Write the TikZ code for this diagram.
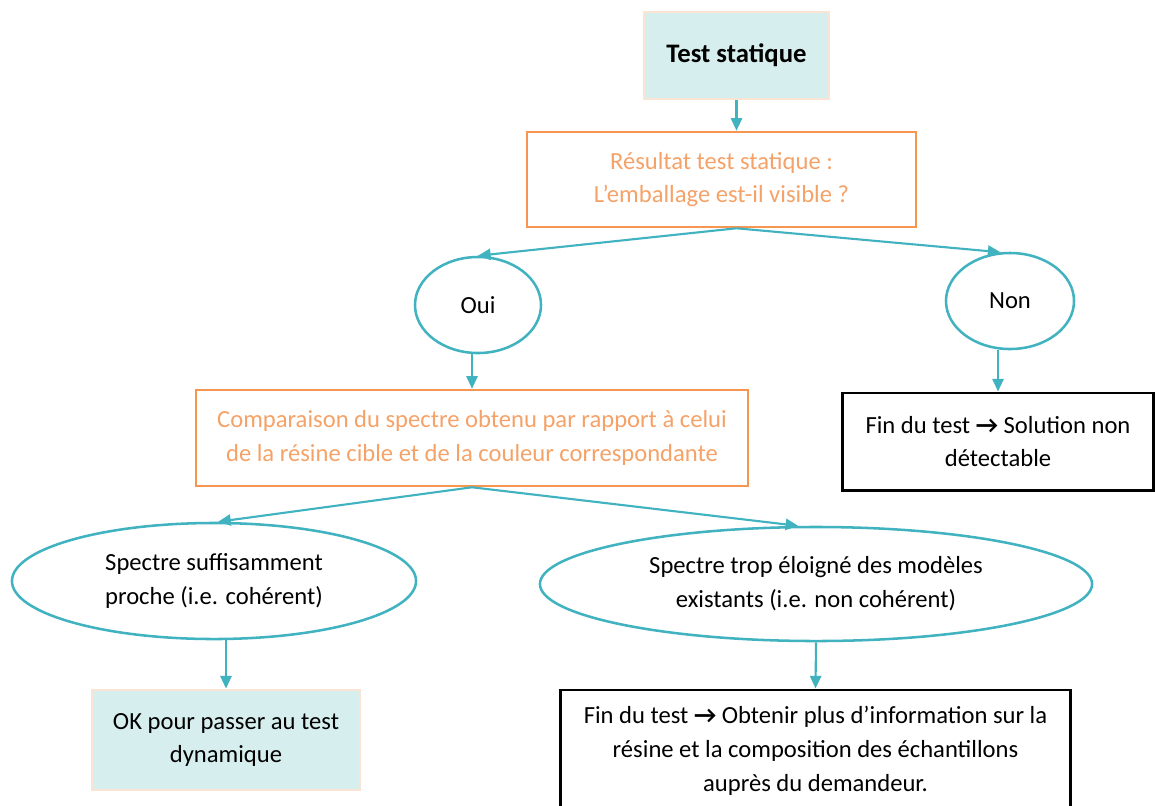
\documentclass[tikz,border=0pt]{standalone}
\usepackage{fontspec}
\setmainfont{Carlito}
\usetikzlibrary{shapes}
\usetikzlibrary{arrows.meta}

\definecolor{teal}{RGB}{64,178,192}
\definecolor{orangeline}{RGB}{246,150,80}
\definecolor{orangetext}{RGB}{245,162,104}
\definecolor{paleblue}{RGB}{214,238,238}
\definecolor{peach}{RGB}{252,228,212}

\begin{document}
\begin{tikzpicture}[x=0.025cm, y=0.025cm, font=\fontsize{17.5}{24}\selectfont]

\tikzstyle{start}=[rectangle, fill=paleblue, draw=peach, line width=2pt, align=center, inner sep=0pt]
\tikzstyle{question}=[rectangle, draw=orangeline, line width=1.8pt, text=orangetext, align=center, inner sep=0pt]
\tikzstyle{answer}=[ellipse, draw=teal, line width=1.8pt, align=center, inner sep=0pt]
\tikzstyle{stop}=[rectangle, draw=black, line width=2.1pt, align=center, inner sep=0pt]

\tikzstyle{connect}=[-{Triangle[length=9pt, width=8pt]}, teal, line width=1.5pt]

\useasboundingbox (0,0) rectangle (1155,-805);

\node[start, minimum width=4.625cm, minimum height=2.175cm] (test) at (736.5,-55.5) {\fontsize{19}{24}\selectfont\textbf{Test statique}};
\node[question, minimum width=9.725cm, minimum height=2.375cm] (res) at (721.5,-179.5) {Résultat test statique :\\L’emballage est-il visible ?};

\node[answer, minimum width=3.15cm, minimum height=2.4cm] (oui) at (478,-305) {Oui};
\node[answer, minimum width=3.2cm, minimum height=2.4cm] (non) at (1010,-301) {Non};

\node[question, minimum width=13.8cm, minimum height=2.4cm] (comp) at (472,-438) {Comparaison du spectre obtenu par rapport à celui\\de la résine cible et de la couleur correspondante};
\node[stop, minimum width=7.75cm, minimum height=2.425cm] (fin1) at (998,-441.5) {Fin du test \textbf{→} Solution non\\détectable};

\node[answer, minimum width=10.1cm, minimum height=2.9cm] (sp1) at (214,-581) {Spectre suffisamment\\proche (i.e. cohérent)};
\node[answer, minimum width=13.8cm, minimum height=2.85cm] (sp2) at (816,-584) {Spectre trop éloigné des modèles\\existants (i.e. non cohérent)};

\node[start, minimum width=6.7cm, minimum height=2.5cm] (ok) at (226,-740) {OK pour passer au test\\dynamique};
\node[stop, minimum width=12.725cm, minimum height=3.05cm] (fin2) at (815.5,-751) {Fin du test \textbf{→} Obtenir plus d’information sur la\\résine et la composition des échantillons\\auprès du demandeur.};

\coordinate (split) at (test.south |- res.south);

\path (test.south) [connect] edge (test.south |- res.north);
\path (split) [connect] edge (oui.north);
\path (split) [connect] edge (non.101);
\path (comp.north |- oui.south) [connect] edge (comp.north);
\path (fin1.north |- non.south) [connect] edge (fin1.north);
\path (comp.south) [connect] edge (sp1.86);
\path (comp.south) [connect] edge (sp2.107);
\path (ok.north |- sp1.south) [connect] edge (ok.north);
\path (sp2.south) [connect] edge (fin2.north);

\end{tikzpicture}
\end{document}
